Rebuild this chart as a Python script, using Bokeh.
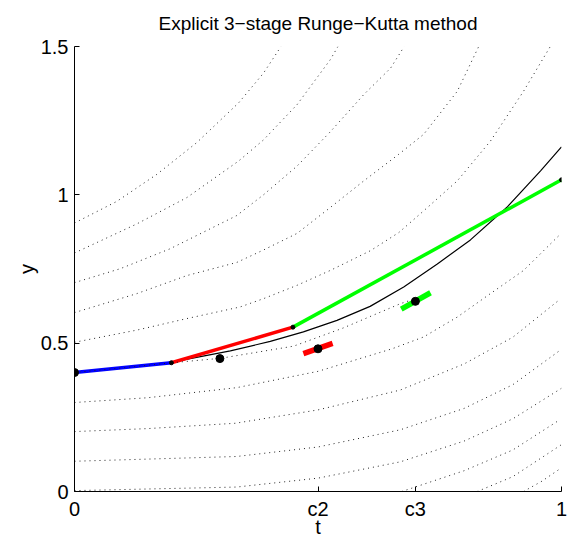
from bokeh.plotting import figure
from bokeh.models import Range1d, FixedTicker
from bokeh.embed import file_html
from bokeh.resources import INLINE

# ---------------- data ----------------
c2 = 0.5
c3 = 0.7
x_ticks = [0, c2, c3, 1]
x_tick_labels = ["0", "c2", "c3", "1"]
y_ticks = [0, 0.5, 1, 1.5]
y_tick_labels = ["0", "0.5", "1", "1.5"]

# dotted solution curves (direction field family)
s09_t = [0, 0.087, 0.169, 0.251, 0.337, 0.388, 0.424]
s09_y = [0.905, 0.978, 1.069, 1.176, 1.310, 1.410, 1.500]
s08_t = [0, 0.128, 0.231, 0.337, 0.388, 0.457, 0.525, 0.541]
s08_y = [0.804, 0.902, 0.991, 1.114, 1.185, 1.304, 1.455, 1.500]
s07_t = [0, 0.094, 0.196, 0.333, 0.388, 0.457, 0.525, 0.594, 0.649, 0.677]
s07_y = [0.704, 0.751, 0.818, 0.930, 1.000, 1.097, 1.212, 1.338, 1.427, 1.500]
s06_t = [0, 0.128, 0.231, 0.333, 0.388, 0.457, 0.525, 0.594, 0.666, 0.717, 0.786, 0.830]
s06_y = [0.603, 0.667, 0.728, 0.772, 0.814, 0.870, 0.957, 1.047, 1.137, 1.204, 1.349, 1.500]
s05_t = [0, 0.128, 0.231, 0.340, 0.388, 0.457, 0.525, 0.608, 0.666, 0.717, 0.786, 0.854, 0.922, 0.977]
s05_y = [0.503, 0.544, 0.583, 0.622, 0.650, 0.695, 0.745, 0.812, 0.873, 0.946, 1.047, 1.181, 1.349, 1.500]
s04_t = [0, 0.1, 0.2]
s04_y = [0.401, 0.417, 0.434]
sm_t = [0.2, 0.3, 0.45, 0.55, 0.669, 0.70]
sm_y = [0.434, 0.449, 0.490, 0.550, 0.633, 0.650]
s03_t = [0, 0.15, 0.333, 0.5, 0.652, 0.717, 0.786, 0.854, 0.922, 0.998]
s03_y = [0.300, 0.316, 0.350, 0.405, 0.481, 0.521, 0.588, 0.667, 0.745, 0.868]
s02_t = [0, 0.15, 0.33, 0.5, 0.669, 0.8, 0.9, 0.994]
s02_y = [0.202, 0.212, 0.230, 0.275, 0.342, 0.430, 0.520, 0.644]
s01_t = [0, 0.333, 0.5, 0.669, 0.8, 0.9, 0.998]
s01_y = [0.102, 0.118, 0.150, 0.208, 0.280, 0.360, 0.477]
s00_t = [0, 0.333, 0.5, 0.669, 0.8, 0.9, 1.0]
s00_y = [0.003, 0.015, 0.045, 0.100, 0.170, 0.245, 0.348]
sn1_t = [0.672, 0.8, 0.9, 0.991]
sn1_y = [0.0, 0.070, 0.140, 0.236]
sn2_t = [0.827, 0.9, 1.0]
sn2_y = [0.0, 0.050, 0.158]
sn3_t = [0.922, 0.96, 1.0]
sn3_y = [0.0, 0.035, 0.080]

# exact solution (black)
exact_t = [0, 0.1, 0.2, 0.32, 0.402, 0.47, 0.539, 0.607, 0.676, 0.745, 0.813, 0.888, 0.957, 1.0]
exact_y = [0.4, 0.417, 0.436, 0.474, 0.506, 0.538, 0.577, 0.624, 0.689, 0.767, 0.848, 0.958, 1.081, 1.162]

# RK construction
blue_t = [0, 0.199]
blue_y = [0.401, 0.434]
red_t = [0.199, 0.4486]
red_y = [0.434, 0.554]
green_t = [0.4486, 1.0]
green_y = [0.554, 1.0506]
red_mark_t = [0.470, 0.530]
red_mark_y = [0.465, 0.499]
green_mark_t = [0.671, 0.731]
green_mark_y = [0.615, 0.670]
stage_t = [0.0, 0.2986, c2, c3]
stage_y = [0.401, 0.448, 0.481, 0.641]
node_t = [0.199, 0.4486, 1.0]
node_y = [0.434, 0.554, 1.0506]

# ---------------- figure ----------------
FONT = "Liberation Sans"
p = figure(width=572, height=540, x_range=Range1d(0, 1), y_range=Range1d(0, 1.5),
           output_backend="svg", toolbar_location=None,
           min_border_left=74, min_border_right=11, min_border_top=46, min_border_bottom=49)
p.title.text = "Explicit 3\u2212stage Runge\u2212Kutta method"
p.title.align = "center"
p.title.vertical_align = "top"
p.title.text_font = FONT
p.title.text_font_size = "19px"
p.title.text_font_style = "normal"
p.title.text_color = "black"
p.title.standoff = 22
p.outline_line_color = None
p.grid.visible = False
p.background_fill_color = "white"

p.xaxis.ticker = FixedTicker(ticks=x_ticks, minor_ticks=[])
p.yaxis.ticker = FixedTicker(ticks=y_ticks, minor_ticks=[])
p.xaxis.major_label_overrides = {k: v for k, v in zip(x_ticks, x_tick_labels)}
p.yaxis.major_label_overrides = {k: v for k, v in zip(y_ticks, y_tick_labels)}
p.xaxis.axis_label = "t"
p.yaxis.axis_label = "y"
for ax in (p.xaxis, p.yaxis):
    ax.major_tick_in = 5
    ax.major_tick_out = 0
    ax.minor_tick_in = 0
    ax.minor_tick_out = 0
    ax.axis_line_color = "black"
    ax.major_tick_line_color = "black"
    ax.major_label_text_font = FONT
    ax.major_label_text_font_size = "20px"
    ax.major_label_text_color = "black"
    ax.axis_label_text_font = FONT
    ax.axis_label_text_font_size = "20px"
    ax.axis_label_text_font_style = "normal"
    ax.axis_label_text_color = "black"
p.xaxis.major_label_standoff = 6
p.xaxis.axis_label_standoff = -7
p.yaxis.major_label_standoff = 6
p.yaxis.axis_label_standoff = 0

# exact solution
p.line(exact_t, exact_y, line_color="black", line_width=1.2)

# RK lines
p.line(blue_t, blue_y, line_color="#0000ff", line_width=3.5)
p.line(red_t, red_y, line_color="#ff0000", line_width=3.5)
p.line(green_t, green_y, line_color="#00ff00", line_width=3.5)
p.line(red_mark_t, red_mark_y, line_color="#ff0000", line_width=5.5)
p.line(green_mark_t, green_mark_y, line_color="#00ff00", line_width=5.5)

# dotted family
curves = [(s09_t, s09_y), (s08_t, s08_y), (s07_t, s07_y), (s06_t, s06_y), (s05_t, s05_y),
          (s04_t, s04_y), (sm_t, sm_y), (s03_t, s03_y), (s02_t, s02_y), (s01_t, s01_y),
          (s00_t, s00_y), (sn1_t, sn1_y), (sn2_t, sn2_y), (sn3_t, sn3_y)]
for ct, cy in curves:
    p.line(ct, cy, line_color="#222222", line_width=1, line_dash="1 4")

p.scatter(stage_t, stage_y, size=8, color="black")
p.scatter(node_t, node_y, size=4, color="black")

open("out.html", "w").write(file_html(p, INLINE))
